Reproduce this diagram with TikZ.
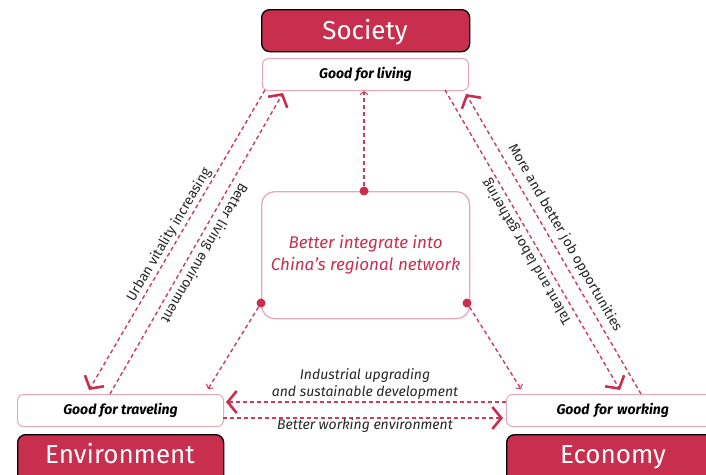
\documentclass[tikz,border=0pt]{standalone}
\usepackage{fontspec}
\setmainfont{Fira Sans}
\usetikzlibrary{arrows.meta}
\definecolor{crim}{RGB}{200,46,78}
\definecolor{dashc}{RGB}{206,60,92}
\definecolor{pinkb}{RGB}{234,168,183}
\tikzset{
  head/.style={draw=black, line width=1.3pt, fill=crim, rounded corners=8pt, text=white, font=\fontsize{26}{28}\selectfont, anchor=north west, inner sep=0pt},
  headtxt/.style={text=white, font=\fontsize{26}{28}\selectfont, anchor=base, inner sep=0pt},
  goodbox/.style={draw=pinkb, line width=1pt, fill=white, rounded corners=6pt, font=\bfseries\itshape\fontsize{14}{16}\selectfont, anchor=north west, inner sep=0pt},
  dsh/.style={draw=dashc, line width=1.4pt, dash pattern=on 4pt off 3pt},
  big/.style={dsh, -{Straight Barb[length=9pt,width=22pt,line width=2.6pt,color=crim]}},
  small/.style={dsh, -{Straight Barb[length=3pt,width=8pt,line width=1pt]}},
  lab/.style={font=\fontsize{13.8}{16}\selectfont, text=black!85, inner sep=0pt},
  blab/.style={font=\itshape\fontsize{14}{17.5}\selectfont, text=black!85, align=center, inner sep=0pt},
  dot/.style={circle, fill=crim, minimum size=9pt, inner sep=0pt}
}
\begin{document}
\begin{tikzpicture}[x=1pt,y=-1pt]
\useasboundingbox (0,0) rectangle (706,474);
\clip (0,0) rectangle (706,474);
% heads
\node[head, minimum width=208pt, minimum height=42pt] (soc) at (261,9) {};
\node[headtxt] (soct) at (365,39) {Society};
\node[head, minimum width=206pt, minimum height=50pt] (env) at (17,434) {};
\node[headtxt] (envt) at (120,463) {Environment};
\node[head, minimum width=220pt, minimum height=50pt] (eco) at (506,434) {};
\node[headtxt] (ecot) at (613,463) {Economy};
% good boxes
\node[goodbox, minimum width=206pt, minimum height=32pt] (liv) at (262,58) {Good for living};
\node[goodbox, minimum width=206pt, minimum height=32pt] (trav) at (17,394) {Good for traveling};
\node[goodbox, minimum width=220pt, minimum height=32pt, text width=210pt, align=left] (work) at (506,394) {\hspace{45pt}Good for working};
% center
\node[draw=pinkb, line width=1.3pt, rounded corners=13pt, minimum width=208pt, minimum height=127pt, anchor=north west, inner sep=0pt, align=center, text=crim, font=\itshape\fontsize{17}{22}\selectfont] (ctr) at (261,191) {Better integrate into\\China's regional network};
\node[dot] (dt) at (364,191) {};
\node[dot] (dl) at (261,303) {};
\node[dot] (dr) at (467,303) {};
% coordinates
\coordinate (tl) at (364,91);
\coordinate (tb) at (208,389);
\coordinate (tw) at (521,389);
\coordinate (a1s) at (265,90);
\coordinate (a1e) at (89,390);
\coordinate (a2s) at (110,394);
\coordinate (a2e) at (283,93);
\coordinate (b1s) at (445,90);
\coordinate (b1e) at (620,390);
\coordinate (b2s) at (641,394);
\coordinate (b2e) at (466,94);
\coordinate (h1s) at (506,402);
\coordinate (h1e) at (226,402);
\coordinate (h2s) at (223,418);
\coordinate (h2e) at (503,418);
% connectors
\draw[small] (dt) -- (tl);
\draw[small] (dl) -- (tb);
\draw[small] (dr) -- (tw);
\draw[big] (a1s) -- (a1e);
\draw[big] (a2s) -- (a2e);
\draw[big] (b1s) -- (b1e);
\draw[big] (b2s) -- (b2e);
\draw[big] (h1s) -- (h1e);
\draw[big] (h2s) -- (h2e);
% labels
\node[lab, rotate=59.5] (l1) at (169,235) {Urban vitality increasing};
\node[lab, rotate=-120] (l2) at (204,253) {Better living environment};
\node[lab, rotate=-60] (l3) at (565,238) {More and better job opportunities};
\node[lab, rotate=120] (l4) at (527,252) {Talent and labor gathering};
\node[blab] (l5) at (365,384) {Industrial upgrading\\and sustainable development};
\node[blab] (l6) at (365,426) {Better working environment};
\end{tikzpicture}
\end{document}
